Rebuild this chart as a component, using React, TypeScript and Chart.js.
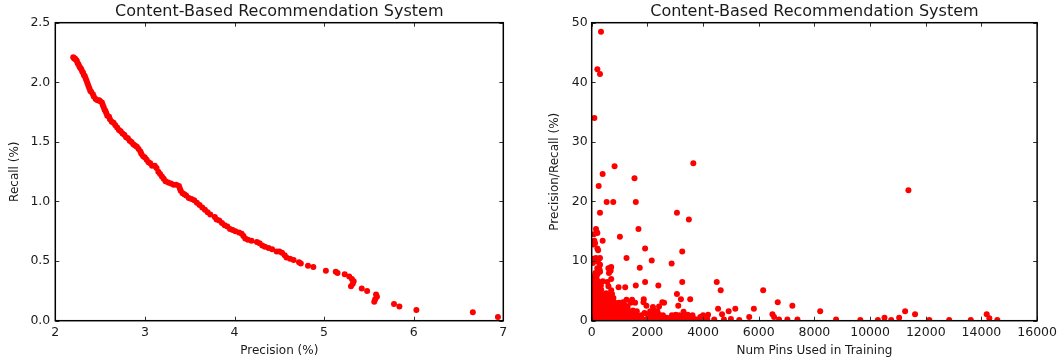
import React, { useEffect, useRef } from "react";
import { Chart, registerables } from "chart.js";

Chart.register(...registerables);

const TITLE = "Content-Based Recommendation System";

// Left chart: precision vs recall curve
const precisionPct = [
  2.20, 2.21, 2.22, 2.23, 2.24, 2.25, 2.26, 2.27, 2.28, 2.29, 2.30, 2.31, 2.32, 2.33, 2.34, 2.35,
  2.36, 2.37, 2.38, 2.39, 2.40, 2.42, 2.43, 2.45, 2.47, 2.49, 2.50, 2.52, 2.53, 2.54, 2.55, 2.56,
  2.57, 2.58, 2.60, 2.61, 2.63, 2.65, 2.67, 2.69, 2.71, 2.73, 2.75, 2.77, 2.79, 2.81, 2.83, 2.85,
  2.87, 2.89, 2.91, 2.93, 2.95, 2.96, 2.98, 3.00, 3.02, 3.04, 3.06, 3.08, 3.11, 3.13, 3.15, 3.17,
  3.19, 3.21, 3.23, 3.26, 3.29, 3.32, 3.35, 3.38, 3.39, 3.40, 3.42, 3.44, 3.46, 3.49, 3.52, 3.55,
  3.58, 3.61, 3.64, 3.67, 3.70, 3.73, 3.78, 3.80, 3.83, 3.86, 3.89, 3.92, 3.95, 3.98, 4.01, 4.05,
  4.08, 4.10, 4.12, 4.15, 4.19, 4.25, 4.28, 4.31, 4.34, 4.38, 4.42, 4.47, 4.50, 4.53, 4.56, 4.58,
  4.62, 4.66, 4.72, 4.74, 4.82, 4.88, 5.02, 5.13, 5.15, 5.23, 5.28, 5.31, 5.33, 5.32, 5.30, 5.42,
  5.48, 5.58, 5.59, 5.57, 5.56, 5.78, 5.84, 6.03, 6.66, 6.94,
];
const recallPct = [
  2.21, 2.20, 2.20, 2.19, 2.18, 2.16, 2.15, 2.13, 2.12, 2.11, 2.09, 2.08, 2.06, 2.05, 2.03, 2.01,
  1.99, 1.97, 1.95, 1.93, 1.92, 1.90, 1.88, 1.86, 1.85, 1.85, 1.84, 1.83, 1.81, 1.79, 1.77, 1.76,
  1.74, 1.72, 1.71, 1.69, 1.67, 1.66, 1.64, 1.62, 1.60, 1.59, 1.57, 1.56, 1.54, 1.53, 1.51, 1.50,
  1.48, 1.47, 1.46, 1.44, 1.42, 1.40, 1.38, 1.37, 1.35, 1.33, 1.32, 1.30, 1.30, 1.28, 1.25, 1.23,
  1.21, 1.19, 1.17, 1.16, 1.15, 1.14, 1.14, 1.13, 1.11, 1.09, 1.07, 1.06, 1.05, 1.03, 1.02, 1.01,
  0.99, 0.97, 0.95, 0.93, 0.91, 0.89, 0.87, 0.85, 0.84, 0.82, 0.80, 0.79, 0.77, 0.76, 0.75, 0.74,
  0.73, 0.71, 0.69, 0.68, 0.67, 0.66, 0.65, 0.63, 0.62, 0.61, 0.60, 0.58, 0.58, 0.57, 0.55, 0.53,
  0.52, 0.51, 0.49, 0.48, 0.46, 0.45, 0.42, 0.41, 0.40, 0.39, 0.37, 0.35, 0.33, 0.31, 0.29, 0.27,
  0.25, 0.22, 0.20, 0.18, 0.16, 0.14, 0.12, 0.09, 0.07, 0.03,
];

// Right chart: number of pins used in training vs precision/recall
const pinsUsed = [
  // outliers
  334, 203, 298, 95, 3650, 822, 393, 1537, 11377, 250, 536, 774, 1584, 298, 3062, 3490, 1680, 155,
  203, 1013, 393, 95, 1918, 203, 3252, 1251, 298, 2156, 2871, 1727, 679, 250, 1918, 3252, 4491,
  2394, 4634, 6159, 965, 1203, 1584, 3062, 727, 6683, 2537, 3205, 3538, 1870, 7208, 1966, 3110,
  5159, 4539, 5825, 8208, 11258, 4920, 11615, 14189, 6493, 4682, 14284, 14570, 13617, 12841, 12127,
  11044, 10518, 10758, 10279, 9650, 8778, 7390, 7030, 6730, 6551, 5658, 5301,
  // left strip
  60, 150, 250, 40, 220, 120, 60, 230, 180, 80, 300,
  // row ~0.2
  30, 150, 280, 400, 520, 650, 780, 900, 1030, 1160, 1290, 1420, 1550, 1680, 1810, 1950, 2080, 2210,
  2340, 2470, 2600, 2740, 2870, 3000, 3140, 3280, 3420, 3560, 3700, 3840, 3980, 4150, 4400, 4750, 5000,
  // row ~0.55
  2500, 2700, 3100, 3500, 3900, 2050, 2300,
  // row ~0.9
  60, 190, 330, 460, 590, 720, 850, 990, 1120, 1250, 1380, 1510, 1650, 1790, 2020, 2150, 2280, 2420,
  2560, 2880, 3020, 3150, 3300, 3450, 3620, 4000, 4180,
  // row ~1.25
  100, 350, 600, 850, 1100, 1350, 1600, 1900, 2200,
  // row ~1.6
  20, 140, 270, 400, 530, 660, 800, 930, 1060, 1200, 1340, 1480, 1620, 2100, 2240, 2360, 3300,
  // row ~2.3
  70, 200, 330, 470, 600, 740, 870, 1010, 1150, 1290, 2200, 2420,
  // row ~2.65
  120, 380, 650, 900, 1200,
  // row ~3.0
  30, 160, 290, 420, 560, 700, 840, 980, 1120, 1400, 1560, 1860, 2600,
  // row ~3.7
  80, 220, 360, 500, 640, 780, 1250, 1450,
  // row ~4.0
  100, 400, 560,
  // row ~4.4
  20, 150, 300, 450, 640, 720,
  // row ~5.1
  60, 200, 340, 520, 700,
  // row ~5.8
  30, 170, 330, 600,
  // row ~6.5
  100, 260, 400, 560, 180,
  // row ~7.2
  40, 210, 700, 120,
  // row ~8.0
  130, 300, 620, 680,
  // row ~8.8
  200, 280, 600, 700,
];
const precisionRecallPct = [
  // outliers
  48.5, 42.2, 41.4, 34.0, 26.4, 25.9, 24.6, 23.9, 21.9, 22.6, 19.9, 19.9, 19.9, 18.1, 18.1, 17.0, 15.4, 15.4,
  14.7, 14.1, 13.4, 13.4, 12.1, 12.1, 11.6, 10.5, 10.5, 10.1, 9.6, 8.9, 8.9, 8.7, 6.5, 6.5, 6.5,
  5.9, 5.1, 5.1, 5.6, 5.6, 5.9, 4.5, 4.5, 3.1, 3.1, 3.6, 3.6, 3.6, 2.5, 2.5, 2.5,
  2.0, 2.0, 2.0, 1.6, 1.6, 1.6, 1.1, 1.1, 1.1, 1.1, 0.4, 0.1, 0.1, 0.1, 0.1,
  0.5, 0.5, 0.1, 0.1, 0.1, 0.2, 0.2, 0.2, 0.2, 0.6, 0.6, 0.1,
  // left strip
  10.4, 10.5, 10.4, 9.7, 9.9, 13.0, 12.8, 11.8, 14.9, 14.5, 9.4,
  // row ~0.2
  0.2, 0.3, 0.2, 0.2, 0.3, 0.2, 0.2, 0.3, 0.2, 0.2, 0.3, 0.2, 0.2, 0.3, 0.2, 0.2, 0.3, 0.2,
  0.2, 0.3, 0.2, 0.2, 0.3, 0.2, 0.2, 0.3, 0.2, 0.2, 0.3, 0.2, 0.2, 0.3, 0.2, 0.2, 0.3,
  // row ~0.55
  0.6, 0.5, 0.6, 0.5, 0.6, 0.5, 0.6,
  // row ~0.9
  0.9, 0.9, 1.0, 0.9, 0.9, 1.0, 0.9, 0.9, 1.0, 0.9, 0.9, 1.0, 0.9, 0.9, 1.0, 0.9, 0.9, 1.0,
  0.9, 0.9, 1.0, 0.9, 0.9, 1.0, 0.9, 0.9, 1.0,
  // row ~1.25
  1.2, 1.3, 1.2, 1.3, 1.2, 1.3, 1.2, 1.3, 1.2,
  // row ~1.6
  1.6, 1.6, 1.7, 1.6, 1.6, 1.7, 1.6, 1.6, 1.7, 1.6, 1.6, 1.7, 1.6, 1.6, 1.7, 1.6, 1.5,
  // row ~2.3
  2.3, 2.3, 2.4, 2.3, 2.3, 2.4, 2.3, 2.3, 2.4, 2.3, 2.3, 2.4,
  // row ~2.65
  2.6, 2.7, 2.6, 2.7, 2.6,
  // row ~3.0
  3.0, 3.0, 3.1, 3.0, 3.0, 3.1, 3.0, 3.0, 3.1, 3.0, 3.0, 3.1, 3.0,
  // row ~3.7
  3.7, 3.7, 3.8, 3.7, 3.7, 3.8, 3.5, 3.5,
  // row ~4.0
  4.0, 4.1, 4.0,
  // row ~4.4
  4.4, 4.4, 4.5, 4.4, 4.4, 4.5,
  // row ~5.1
  5.1, 5.1, 5.2, 4.6, 5.1,
  // row ~5.8
  5.8, 5.8, 5.9, 5.8,
  // row ~6.5
  6.5, 6.5, 6.6, 6.5, 7.0,
  // row ~7.2
  7.2, 7.8, 7.0, 7.6,
  // row ~8.0
  8.0, 8.2, 8.0, 8.4,
  // row ~8.8
  8.8, 8.6, 8.8, 9.0,
];

const leftXTicks = [2, 3, 4, 5, 6, 7];
const leftYTicks = [0, 0.5, 1.0, 1.5, 2.0, 2.5];
const rightXTicks = [0, 2000, 4000, 6000, 8000, 10000, 12000, 14000, 16000];
const rightYTicks = [0, 10, 20, 30, 40, 50];

const FONT = "'DejaVu Sans', sans-serif";
const TEXT = "#1a1a1a";
const RED = "#ff0000";

const frameTicks = {
  id: "frameTicks",
  afterDatasetsDraw(chart: any) {
    const { ctx, chartArea: a, scales } = chart;
    const xs = scales.x;
    const ys = scales.y;
    ctx.save();
    ctx.strokeStyle = "#333";
    ctx.lineWidth = 1;
    ctx.beginPath();
    xs.ticks.forEach((t: any) => {
      const px = Math.round(xs.getPixelForValue(t.value)) + 0.5;
      ctx.moveTo(px, a.bottom);
      ctx.lineTo(px, a.bottom - 4);
      ctx.moveTo(px, a.top);
      ctx.lineTo(px, a.top + 4);
    });
    ys.ticks.forEach((t: any) => {
      const py = Math.round(ys.getPixelForValue(t.value)) + 0.5;
      ctx.moveTo(a.left, py);
      ctx.lineTo(a.left + 4, py);
      ctx.moveTo(a.right, py);
      ctx.lineTo(a.right - 4, py);
    });
    ctx.stroke();
    ctx.strokeStyle = "#000";
    ctx.lineWidth = 1.5;
    ctx.strokeRect(a.left, a.top, a.right - a.left, a.bottom - a.top);
    ctx.restore();
  },
};

type Cfg = {
  xs: number[];
  ys: number[];
  xTicks: number[];
  yTicks: number[];
  xLabel: string;
  yLabel: string;
  yFmt: (v: number) => string;
  yAxisWidth: number;
  yTitlePad: number;
  yTickPad: number;
  rightPad: number;
};

function ScatterPanel({ cfg, left }: { cfg: Cfg; left: number }) {
  const ref = useRef<HTMLCanvasElement | null>(null);
  useEffect(() => {
    if (!ref.current) return;
    const data = cfg.xs.map((x, i) => ({ x, y: cfg.ys[i] }));
    const xMin = cfg.xTicks[0];
    const xMax = cfg.xTicks[cfg.xTicks.length - 1];
    const yMin = cfg.yTicks[0];
    const yMax = cfg.yTicks[cfg.yTicks.length - 1];
    const chart = new Chart(ref.current, {
      type: "scatter",
      data: {
        datasets: [
          {
            data,
            backgroundColor: RED,
            borderWidth: 0,
            pointRadius: 3,
            pointHoverRadius: 3,
          },
        ],
      },
      options: {
        animation: false,
        responsive: false,
        devicePixelRatio: 1,
        layout: { padding: { left: 0, right: cfg.rightPad, top: 0, bottom: 0 } },
        plugins: {
          legend: { display: false },
          tooltip: { enabled: false },
          title: {
            display: true,
            text: TITLE,
            fullSize: false,
            color: TEXT,
            font: { family: FONT, size: 16, weight: "normal" },
            padding: { top: 2, bottom: 1.5 },
          },
        },
        scales: {
          x: {
            type: "linear",
            min: xMin,
            max: xMax,
            afterBuildTicks: (s: any) => {
              s.ticks = cfg.xTicks.map((v) => ({ value: v }));
            },
            afterFit: (s: any) => {
              s.height = 43.3;
            },
            grid: { display: false, drawTicks: false },
            border: { display: false },
            ticks: {
              color: TEXT,
              font: { family: FONT, size: 12.5 },
              padding: 5,
              maxRotation: 0,
              callback: (v: any) => String(v),
            },
            title: {
              display: true,
              text: cfg.xLabel,
              color: TEXT,
              font: { family: FONT, size: 12 },
              padding: { top: 0, bottom: 6 },
            },
          },
          y: {
            type: "linear",
            min: yMin,
            max: yMax,
            afterBuildTicks: (s: any) => {
              s.ticks = cfg.yTicks.map((v) => ({ value: v }));
            },
            afterFit: (s: any) => {
              s.width = cfg.yAxisWidth;
            },
            grid: { display: false, drawTicks: false },
            border: { display: false },
            ticks: {
              color: TEXT,
              font: { family: FONT, size: 12.5 },
              padding: cfg.yTickPad,
              callback: (v: any) => cfg.yFmt(Number(v)),
            },
            title: {
              display: true,
              text: cfg.yLabel,
              color: TEXT,
              font: { family: FONT, size: 12 },
              padding: { top: cfg.yTitlePad, bottom: 0 },
            },
          },
        },
      },
      plugins: [frameTicks],
    });
    return () => chart.destroy();
  }, []);
  return (
    <canvas
      ref={ref}
      width={531}
      height={364}
      style={{ position: "absolute", left, top: 0, width: 531, height: 364 }}
    />
  );
}

export default function App() {
  const leftCfg: Cfg = {
    xs: precisionPct,
    ys: recallPct,
    xTicks: leftXTicks,
    yTicks: leftYTicks,
    xLabel: "Precision (%)",
    yLabel: "Recall (%)",
    yFmt: (v) => v.toFixed(1),
    yAxisWidth: 55.3,
    yTitlePad: 8,
    yTickPad: 5,
    rightPad: 27.7,
  };
  const rightCfg: Cfg = {
    xs: pinsUsed,
    ys: precisionRecallPct,
    xTicks: rightXTicks,
    yTicks: rightYTicks,
    xLabel: "Num Pins Used in Training",
    yLabel: "Precision/Recall (%)",
    yFmt: (v) => String(v),
    yAxisWidth: 60.7,
    yTitlePad: 17,
    yTickPad: 4,
    rightPad: 22.7,
  };
  return (
    <div style={{ position: "absolute", left: 0, top: 0, width: 1062, height: 364, background: "#fff" }}>
      <ScatterPanel cfg={leftCfg} left={0} />
      <ScatterPanel cfg={rightCfg} left={531} />
    </div>
  );
}
